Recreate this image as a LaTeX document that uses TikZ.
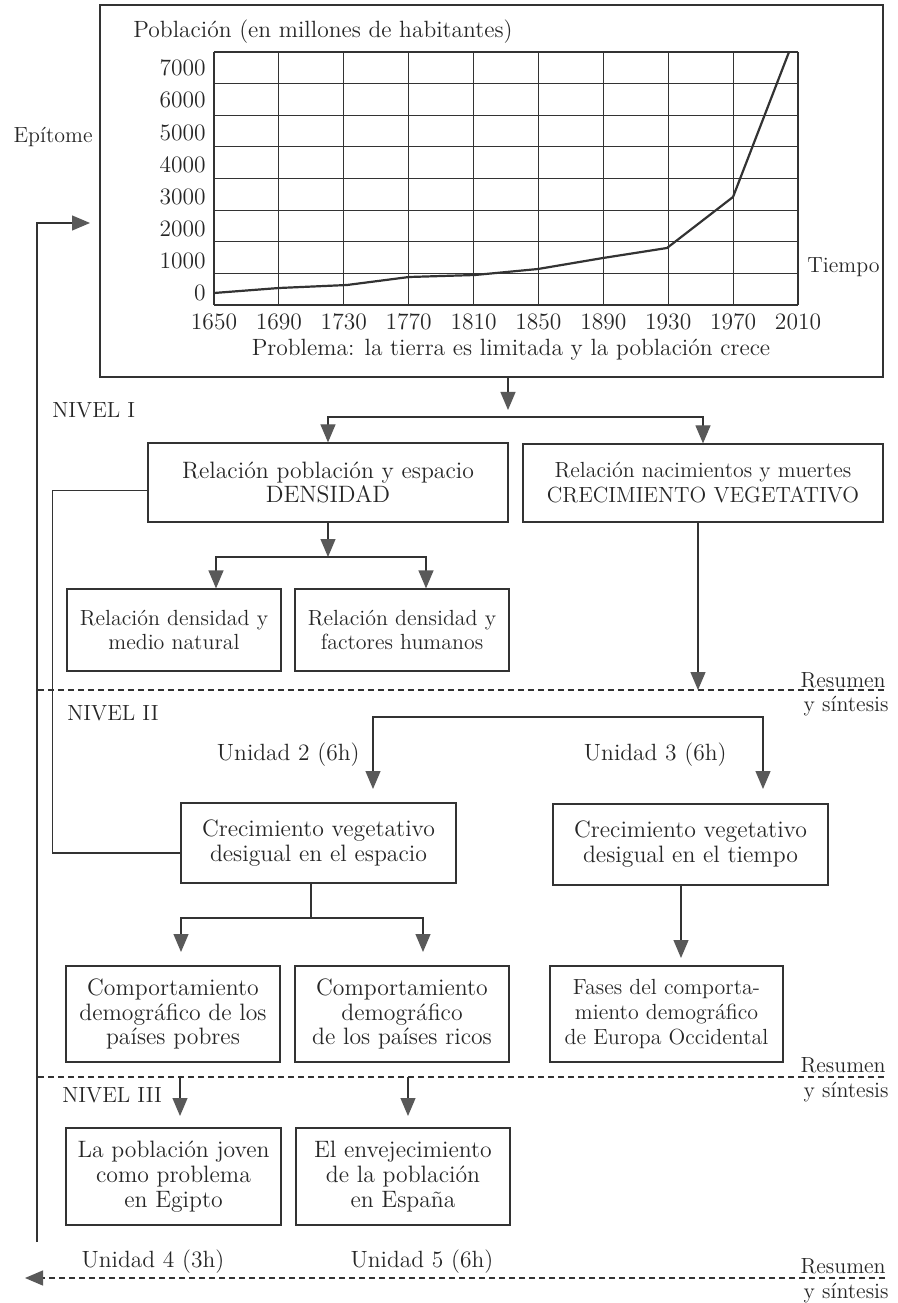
\documentclass[tikz,border=0pt]{standalone}
\usepackage{tikz}
\usetikzlibrary{arrows.meta,calc}

\begin{document}
\begin{tikzpicture}[x=0.5bp,y=-0.5bp,
   every node/.style={font=\fontsize{11}{12.5}\selectfont, text=black!85, inner sep=0pt},
   grande/.style={font=\fontsize{11.8}{13}\selectfont},
   caja/.style={draw=black!80, line width=0.6bp, align=center},
   cajag/.style={caja, font=\fontsize{11.9}{12.5}\selectfont},
   linea/.style={draw=black!80, line width=0.6bp},
   flecha/.style={linea, -{Triangle[length=9bp,width=7.5bp,color=black!65]}},
   dobleflecha/.style={linea, {Triangle[length=9bp,width=7.5bp,color=black!65]}-{Triangle[length=9bp,width=7.5bp,color=black!65]}},
   corte/.style={linea, dash pattern=on 3bp off 2bp}]
\useasboundingbox (0,0) rectangle (897,1303);

		\node[caja, minimum width=391.5bp, minimum height=186bp] (epit) at (491.5,191) {};
		\node[grande, anchor=west] (titulo) at (133,32) {Población (en millones de habitantes)};
	\foreach \i in {0,...,9}
		\draw[linea] ({214+64.89*\i},52) -- ({214+64.89*\i},305);
	\foreach \j in {0,...,8}
		\draw[linea] (214,{52+31.625*\j}) -- (798,{52+31.625*\j});
	\foreach \a [count=\i from 0] in {1650,1690,...,2010}
		\node[grande] (x\a) at ({214+64.89*\i},322) {\a};
	\foreach \v [count=\k from 0] in {0,1000,...,7000}
		\node[grande, anchor=east] (y\v) at (206,{293-32.1*\k}) {\v};
		\draw[black!80, line width=1.1bp] (214,293) -- (279,288) -- (347,285) -- (409,277) -- (475,275) -- (538,269)
			-- (603,258) -- (667,248) -- (733,197) -- (789,52);
		\node[anchor=west] (ejet) at (807,267) {Tiempo};
		\node[grande] (problema) at (511,350) {Problema: la tierra es limitada y la población crece};
		\node[anchor=east] (epitome) at (93,137) {Epítome};

		\node[anchor=west] (nivel1) at (52,410) {NIVEL I};
		\node[cajag, minimum width=180bp, minimum height=39.5bp] (dens) at (328,482.5) {Relación población y espacio\\DENSIDAD};
		\node[caja, minimum width=180bp, minimum height=39bp] (creci) at (703,483) {Relación nacimientos y muertes\\CRECIMIENTO VEGETATIVO};
		\node[caja, minimum width=107bp, minimum height=41bp] (medio) at (174,630) {Relación densidad y\\medio natural};
		\node[caja, minimum width=107bp, minimum height=41bp] (humanos) at (402,630) {Relación densidad y\\factores humanos};

		\node[anchor=west] (nivel2) at (67,713) {NIVEL II};
		\node[grande, anchor=east] (u2lbl) at (360,755) {Unidad 2 (6h)};
		\node[grande, anchor=east] (u3lbl) at (727,755) {Unidad 3 (6h)};
		\node[cajag, minimum width=137.5bp, minimum height=40bp] (espacio) at (318.5,843) {Crecimiento vegetativo\\desigual en el espacio};
		\node[cajag, minimum width=137.5bp, minimum height=40.5bp] (tiempo) at (690.5,844.5) {Crecimiento vegetativo\\desigual en el tiempo};
		\node[cajag, minimum width=107bp, minimum height=48bp] (pobres) at (173,1014) {Comportamiento\\demográfico de los\\países pobres};
		\node[cajag, minimum width=107bp, minimum height=48bp] (ricos) at (402,1014) {Comportamiento\\demográfico\\de los países ricos};
		\node[caja, minimum width=116.5bp, minimum height=48bp] (fases) at (666.5,1014) {Fases del comporta-\\miento demográfico\\de Europa Occidental};

		\node[anchor=west] (nivel3) at (62,1095) {NIVEL III};
		\node[cajag, minimum width=107.5bp, minimum height=48.5bp] (egipto) at (173.5,1176.5) {La población joven\\como problema\\en Egipto};
		\node[cajag, minimum width=107bp, minimum height=48.5bp] (espana) at (403,1176.5) {El envejecimiento\\de la población\\en España};
		\node[grande] (u4lbl) at (153,1262) {Unidad 4 (3h)};
		\node[grande] (u5lbl) at (422,1262) {Unidad 5 (6h)};

		\node[anchor=base east] (res1) at (886,687) {Resumen};
		\node[anchor=base east] (sin1) at (889,711) {y síntesis};
		\node[anchor=base east] (res2) at (886,1072) {Resumen};
		\node[anchor=base east] (sin2) at (889,1097) {y síntesis};
		\node[anchor=base east] (res3) at (886,1273) {Resumen};
		\node[anchor=base east] (sin3) at (889,1298) {y síntesis};

	\coordinate (c1a) at (38,690);   \coordinate (c1b) at (885,690);
	\coordinate (c2a) at (38,1077);  \coordinate (c2b) at (885,1077);
	\coordinate (c3a) at (25,1278);  \coordinate (c3b) at (885,1278);
	\coordinate (lazo) at (37,1242); \coordinate (entrada) at (90,223);
	\coordinate (b1) at (508,417);   \coordinate (b2) at (328,557);
	\coordinate (b3) at (373,717);   \coordinate (b4) at (311,918);
	\coordinate (u2) at (373,789);   \coordinate (u3) at (763,789);
	\coordinate (p1) at (181,952);   \coordinate (p2) at (423,952);
	\coordinate (f1) at (681,958);
	\coordinate (e1) at (180,1116);  \coordinate (e2) at (408,1116);

		\draw[corte] (c1a) -- (c1b);
		\draw[corte] (c2a) -- (c2b);
		\draw[corte, -{Triangle[length=9bp,width=7.5bp,color=black!65]}] (c3b) -- (c3a);
		\draw[flecha] (lazo) |- (entrada);

		\draw[flecha, shorten >=3.5bp] (epit.south -| b1) -- (b1);
		\draw[dobleflecha] (dens.north) |- (b1) -| (creci.north);
		\draw[flecha] (dens.south) -- (b2);
		\draw[dobleflecha] ([xshift=21bp]medio.north) |- (b2) -| ([xshift=12bp]humanos.north);
		\draw[linea] ([yshift=-4bp]dens.west) -- ++(-95,0) |- ([yshift=-5bp]espacio.west);
		\draw[flecha] ([xshift=-2.5bp]creci.south) -- ([xshift=-2.5bp]creci.south |- c1a);

		\draw[dobleflecha] (u2) -- (b3) -| (u3);
		\draw[linea] (espacio.south -| b4) -- (b4);
		\draw[dobleflecha] (p1) |- (b4) -| (p2);
		\draw[flecha] (tiempo.south -| f1) -- (f1);

		\draw[flecha] (e1 |- c2a) -- (e1);
		\draw[flecha] (e2 |- c2a) -- (e2);
\end{tikzpicture}
\end{document}
